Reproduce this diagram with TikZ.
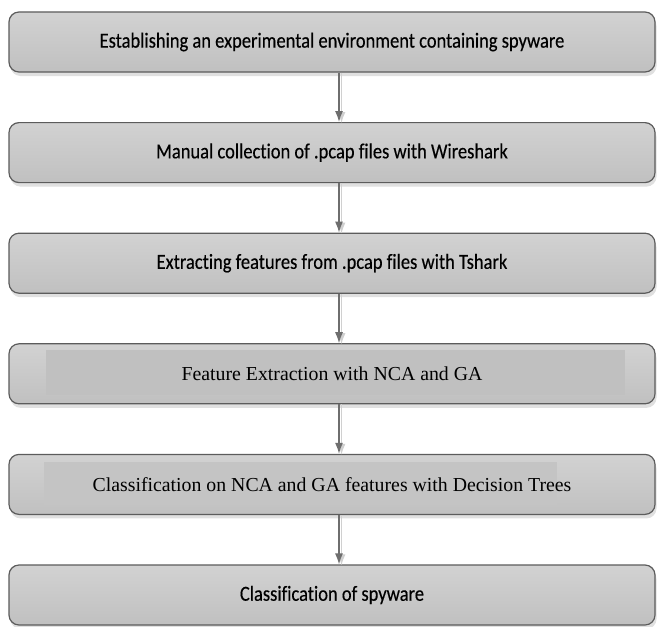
\documentclass[tikz,border=0pt]{standalone}
\usepackage{fontspec}
\setmainfont{Liberation Serif}
\newfontfamily\calibfont[FakeStretch=0.86,FakeBold=0.35,Ligatures=NoCommon]{Carlito}
\newfontfamily\timesfont{Liberation Serif}
\usetikzlibrary{arrows.meta,shadows,calc}

\definecolor{boxfill}{HTML}{C8C8C8}
\definecolor{boxtop}{HTML}{D2D2D2}
\definecolor{boxbottom}{HTML}{C0C0C0}
\definecolor{boxline}{HTML}{5C5C5C}
\definecolor{innerfill}{HTML}{C0C0C0}
\definecolor{arrowline}{HTML}{6E6E6E}
\definecolor{arrowshade}{HTML}{D0D0D0}

\tikzset{
  stagebox/.style={
    rectangle, rounded corners=10pt,
    minimum width=646pt, minimum height=60pt,
    draw=boxline, line width=1.2pt,
    top color=boxtop, bottom color=boxbottom,
    drop shadow={shadow xshift=1.5pt, shadow yshift=-4pt, fill=black!12, opacity=1},
    inner sep=0pt, text=black
  },
  sanslabel/.style={font=\calibfont\fontsize{21.5}{24}\selectfont},
  seriflabel/.style={font=\timesfont\fontsize{19.8}{23}\selectfont},
  flowarrow/.style={draw=arrowline, line width=1.3pt,
    -{Latex[length=11pt,width=8pt]}},
  flowshade/.style={draw=arrowshade, line width=1.3pt,
    -{Latex[length=11pt,width=8pt]}}
}

\begin{document}
\begin{tikzpicture}[x=1pt,y=-1pt]
  \useasboundingbox[fill=white] (0,0) rectangle (660,626);

  % process stages, top to bottom
  \node[stagebox, sanslabel]  (s1) at (332,42.0)  {Establishing an experimental environment containing spyware};
  \node[stagebox, sanslabel]  (s2) at (332,152.6) {Manual collection of .pcap files with Wireshark};
  \node[stagebox, sanslabel]  (s3) at (332,263.2) {Extracting features from .pcap files with Tshark};
  \node[stagebox, seriflabel] (s4) at (332,373.8) {};
  \node[stagebox, seriflabel] (s5) at (332,484.4) {};
  \node[stagebox, sanslabel]  (s6) at (332,595.0) {Classification of spyware};

  % text-frame panels inside the serif stages
  \fill[innerfill] ($(s4.north west)+(38,7)$) rectangle ($(s4.north west)+(617,52)$);
  \fill[innerfill!50!boxfill] ($(s5.north west)+(36,8)$) rectangle ($(s5.north west)+(549,51)$);
  \node[seriflabel] (t4) at (s4.center) {Feature Extraction with NCA and GA};
  \node[seriflabel] (t5) at (s5.center) {Classification on NCA and GA features with Decision Trees};

  % connectors with a faint offset shade
  \foreach \a/\b in {s1/s2,s2/s3,s3/s4,s4/s5,s5/s6}{
    \draw[flowshade] ([xshift=9.5pt]\a.south) -- ([xshift=9.5pt,yshift=-1pt]\b.north);
    \draw[flowarrow] ([xshift=7pt]\a.south) -- ([xshift=7pt]\b.north);
  }
\end{tikzpicture}
\end{document}
